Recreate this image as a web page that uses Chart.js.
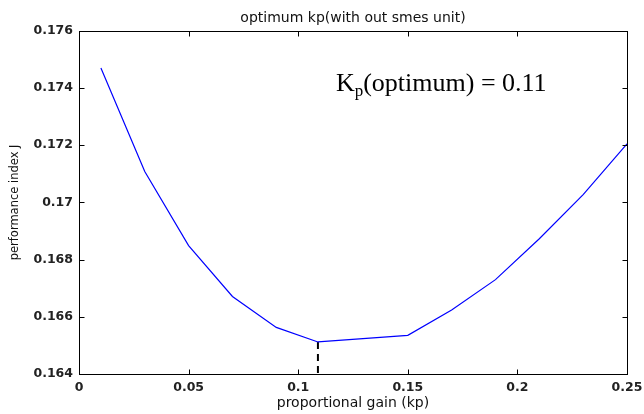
<!DOCTYPE html>
<html>
<head>
<meta charset="utf-8">
<script src="https://cdn.jsdelivr.net/npm/chart.js@4"></script>
<style>
  html, body { margin: 0; padding: 0; background: #fff; }
  canvas { display: block; }
</style>
</head>
<body>
<canvas id="kpChart" width="644" height="414"></canvas>
<script>
// values
let kp_values = [0.01, 0.03, 0.05, 0.07, 0.09, 0.109, 0.15, 0.17, 0.19, 0.21, 0.23, 0.25];
let J_values = [0.1747, 0.17108, 0.16849, 0.16671, 0.16563, 0.16512, 0.16535, 0.16624, 0.1673, 0.16873, 0.17027, 0.17205];

let kp_optimum = 0.109;
let J_optimum = 0.16512;

let x_ticks = [0, 0.05, 0.1, 0.15, 0.2, 0.25];
let x_tick_labels = ['0', '0.05', '0.1', '0.15', '0.2', '0.25'];
let y_ticks = [0.164, 0.166, 0.168, 0.17, 0.172, 0.174, 0.176];
let y_tick_labels = ['0.164', '0.166', '0.168', '0.17', '0.172', '0.174', '0.176'];

// where the note sits, in data units
let note_x = 0.1172;
let note_y = 0.17388;

let ourCanvas = document.getElementById('kpChart');

let curvePoints = kp_values.map((k, i) => ({x: k, y: J_values[i]}));
let dropPoints = [{x: kp_optimum, y: J_optimum}, {x: kp_optimum, y: y_ticks[0]}];

// matlab style box with ticks pointing inwards
const boxPlugin = {
    id: 'boxPlugin',
    afterDatasetsDraw(chart) {
        const ctx = chart.ctx;
        const a = chart.chartArea;
        const xs = chart.scales.x;
        const ys = chart.scales.y;
        const L = Math.round(a.left) + 0.5, R = Math.round(a.right) + 0.5;
        const T = Math.round(a.top) + 0.5, B = Math.round(a.bottom) + 0.5;
        ctx.save();
        ctx.strokeStyle = '#000';
        ctx.lineWidth = 1;
        ctx.strokeRect(L, T, R - L, B - T);
        ctx.beginPath();
        x_ticks.forEach(v => {
            const px = Math.round(xs.getPixelForValue(v)) + 0.5;
            ctx.moveTo(px, B); ctx.lineTo(px, B - 5);
            ctx.moveTo(px, T); ctx.lineTo(px, T + 5);
        });
        y_ticks.forEach(v => {
            const py = Math.round(ys.getPixelForValue(v)) + 0.5;
            ctx.moveTo(L, py); ctx.lineTo(L + 5, py);
            ctx.moveTo(R, py); ctx.lineTo(R - 5, py);
        });
        ctx.stroke();

        // K_p(optimum) = 0.11
        const nx = xs.getPixelForValue(note_x);
        const ny = ys.getPixelForValue(note_y);
        ctx.fillStyle = '#000';
        ctx.textBaseline = 'alphabetic';
        ctx.textAlign = 'left';
        ctx.font = '26px "Liberation Serif", "Times New Roman", serif';
        ctx.fillText('K', nx, ny);
        let w = ctx.measureText('K').width;
        ctx.font = '17px "Liberation Serif", "Times New Roman", serif';
        ctx.fillText('p', nx + w, ny + 5);
        w += ctx.measureText('p').width;
        ctx.font = '26px "Liberation Serif", "Times New Roman", serif';
        ctx.fillText('(optimum) = 0.11', nx + w, ny);
        ctx.restore();
    }
};

const chartElement = new Chart(ourCanvas, {
    type: 'line',
    data: {
        datasets: [
            {
                label: 'J',
                data: curvePoints,
                borderColor: '#0000ff',
                borderWidth: 1.2,
                pointRadius: 0,
                fill: false,
                tension: 0
            },
            {
                label: 'optimum',
                data: dropPoints,
                borderColor: '#000',
                borderWidth: 2,
                borderDash: [7, 5],
                pointRadius: 0,
                fill: false
            }
        ]
    },
    options: {
        responsive: false,
        devicePixelRatio: 1,
        animation: false,
        layout: {padding: {left: 0, right: 17, top: 0, bottom: 0}},
        plugins: {
            legend: {display: false},
            tooltip: {enabled: false},
            title: {
                display: true,
                fullSize: false,
                text: 'optimum kp(with out smes unit)',
                color: '#111',
                font: {family: '"DejaVu Sans", sans-serif', size: 14, weight: 'normal'},
                padding: {top: 10, bottom: 4}
            }
        },
        scales: {
            x: {
                type: 'linear',
                min: 0,
                max: 0.25,
                afterBuildTicks: s => { s.ticks = x_ticks.map(v => ({value: v})); },
                afterFit: s => { s.height = 40; s.paddingLeft = 0; s.paddingRight = 0; },
                grid: {display: false, drawTicks: false},
                border: {display: false},
                ticks: {
                    padding: 6,
                    color: '#222',
                    font: {family: '"DejaVu Sans", sans-serif', size: 12.5, weight: 'bold'},
                    maxRotation: 0,
                    callback: (v, i) => x_tick_labels[i]
                },
                title: {
                    display: true,
                    text: 'proportional gain (kp)',
                    color: '#111',
                    font: {family: '"DejaVu Sans", sans-serif', size: 14},
                    padding: {top: 0, bottom: 2}
                }
            },
            y: {
                type: 'linear',
                min: 0.164,
                max: 0.176,
                afterBuildTicks: s => { s.ticks = y_ticks.map(v => ({value: v})); },
                afterFit: s => { s.width = 79; },
                grid: {display: false, drawTicks: false},
                border: {display: false},
                ticks: {
                    padding: 6,
                    color: '#222',
                    font: {family: '"DejaVu Sans", sans-serif', size: 12.5, weight: 'bold'},
                    callback: (v, i) => y_tick_labels[i]
                },
                title: {
                    display: true,
                    text: 'performance index J',
                    color: '#111',
                    font: {family: '"DejaVu Sans", sans-serif', size: 11.5},
                    padding: {top: 8, bottom: 0}
                }
            }
        }
    },
    plugins: [boxPlugin]
});
</script>
</body>
</html>
